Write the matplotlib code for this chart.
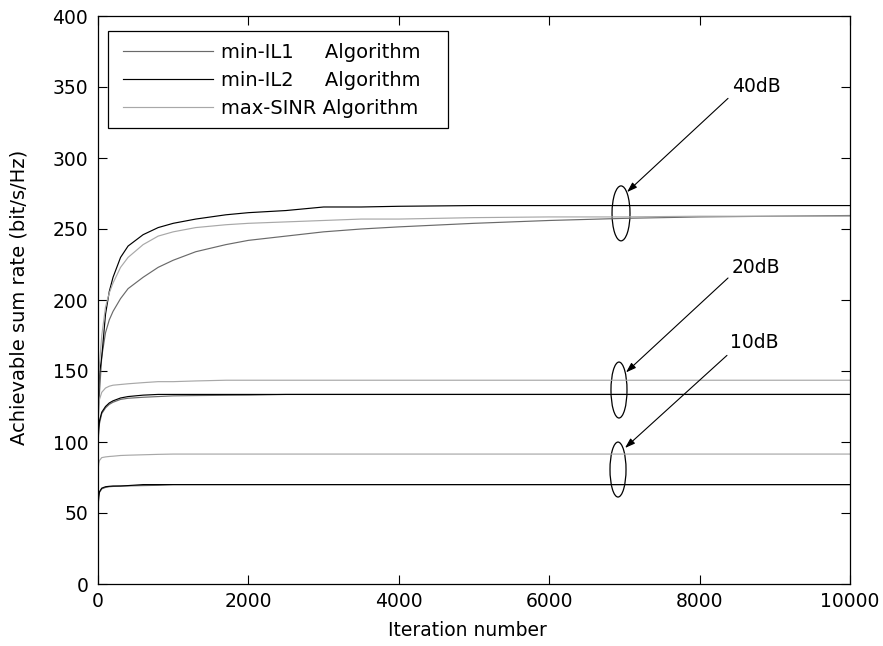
import matplotlib
matplotlib.use("Agg")
import matplotlib.pyplot as plt
from matplotlib.patches import Ellipse, Rectangle

plt.rcParams['font.family'] = ['DejaVu Sans']

# ---------------- data ----------------
iters = [1, 10, 20, 50, 100, 150, 200, 300, 400, 600, 800, 1000, 1300, 1700,
         2000, 2500, 3000, 3500, 4000, 5000, 6000, 7000, 8000, 9000, 10000]

# 40 dB
il1_40 = [110, 125, 135, 160, 177, 186, 192, 201, 208, 216, 223, 228, 234, 239,
          242, 245, 248, 250, 251.5, 254, 256, 257.5, 258.5, 259, 259.5]
il2_40 = [118, 138, 148, 160, 190, 206, 216, 230, 238, 246, 251, 254, 257, 260,
          261.5, 263, 265.5, 265.5, 266, 266.5, 266.5, 266.5, 266.5, 266.5, 266.5]
sinr_40 = [125, 145, 155, 175, 195, 205, 212, 223, 230, 239, 245, 248, 251, 253,
           254, 255, 256, 257, 257, 258, 258.5, 258.5, 259, 259, 259]

# 20 dB
il1_20 = [98, 108, 113, 120, 124, 126.5, 128, 130, 130.8, 131.5, 132, 132.5, 132.7, 132.9,
          133, 133.5, 133.5, 133.5, 133.5, 133.5, 133.5, 133.5, 133.5, 133.5, 133.5]
il2_20 = [100, 110, 115, 121, 125, 127.5, 129, 131, 132, 133, 133.5, 133.5, 133.5, 133.5,
          133.5, 133.5, 133.5, 133.5, 133.5, 133.5, 133.5, 133.5, 133.5, 133.5, 133.5]
sinr_20 = [115, 125, 130, 135, 138, 139.3, 140, 140.5, 141, 141.8, 142.5, 142.5, 143, 143.5,
           143.5, 143.5, 143.5, 143.5, 143.5, 143.5, 143.5, 143.5, 143.5, 143.5, 143.5]

# 10 dB
il1_10 = [54, 61, 64.5, 67, 68, 68.5, 68.7, 69, 69.1, 69.3, 69.5, 70, 70, 70,
          70, 70, 70, 70, 70, 70, 70, 70, 70, 70, 70]
il2_10 = [55, 62, 65, 67.5, 68.5, 68.8, 69, 69, 69.3, 70, 70, 70, 70, 70,
          70, 70, 70, 70, 70, 70, 70, 70, 70, 70, 70]
sinr_10 = [80, 85, 87, 89, 89.5, 89.8, 90, 90.5, 90.7, 91, 91.3, 91.5, 91.5, 91.5,
           91.5, 91.5, 91.5, 91.5, 91.5, 91.5, 91.5, 91.5, 91.5, 91.5, 91.5]

labels = ["min-IL1     Algorithm", "min-IL2     Algorithm", "max-SINR Algorithm"]
snr_labels = ["40dB", "20dB", "10dB"]
xticks = [0, 2000, 4000, 6000, 8000, 10000]
yticks = [0, 50, 100, 150, 200, 250, 300, 350, 400]

# ---------------- figure ----------------
fig = plt.figure(figsize=(8.83, 6.46), dpi=100)
ax = fig.add_axes([98/883, 62/646, 752/883, 568/646])

c_il1 = '#6a6a6a'
c_il2 = '#000000'
c_sinr = '#a8a8a8'
lw = 0.85

l1, = ax.plot(iters, il1_40, color=c_il1, lw=lw)
l2, = ax.plot(iters, il2_40, color=c_il2, lw=lw)
l3, = ax.plot(iters, sinr_40, color=c_sinr, lw=lw)
ax.plot(iters, il1_20, color=c_il1, lw=lw)
ax.plot(iters, il2_20, color=c_il2, lw=lw)
ax.plot(iters, sinr_20, color=c_sinr, lw=lw)
ax.plot(iters, il1_10, color=c_il1, lw=lw)
ax.plot(iters, il2_10, color=c_il2, lw=lw)
ax.plot(iters, sinr_10, color=c_sinr, lw=lw)

ax.set_xlim(0, 10000)
ax.set_ylim(0, 400)
ax.set_xticks(xticks)
ax.set_yticks(yticks)
ax.tick_params(direction='in', top=True, right=True, length=6.5, width=0.8,
               labelsize=13.5)
ax.tick_params(axis='y', pad=7)
ax.tick_params(axis='x', pad=6)
for s in ax.spines.values():
    s.set_linewidth(0.9)

ax.set_xlabel("Iteration number", fontsize=13.5)
ax.set_ylabel("Achievable sum rate (bit/s/Hz)", fontsize=14)
ax.yaxis.set_label_coords(-0.093, 0.505)
ax.xaxis.set_label_coords(0.491, -0.066)

# legend (text + handles) with a MATLAB-like frame drawn separately
leg = ax.legend([l1, l2, l3], labels, loc='upper left',
                bbox_to_anchor=(0.0332, 0.953), fontsize=14, handlelength=4.63,
                handletextpad=0.41, labelspacing=0.46, borderpad=0,
                borderaxespad=0, frameon=False)
ax.add_patch(Rectangle((0.0133, 0.8028), 0.4521, 0.1708, transform=ax.transAxes,
                       fill=True, facecolor='white', edgecolor='black', lw=0.9,
                       zorder=4))
leg.set_zorder(5)

# annotations: ellipses + arrows + labels
ell_centers = [(6955, 261), (6928, 136.6), (6915, 80.6)]
ell_sizes = [(239, 38.7), (213, 39.4), (213, 38.7)]
arrow_starts = [(8378, 342), (8378, 215.5), (8364, 161)]
arrow_ends = [(7035, 276), (7021, 149), (7008, 95.8)]
text_pos = [(8431, 350), (8431, 223), (8400, 170)]

for (cx, cy), (w, h), st, en, tp, lab in zip(ell_centers, ell_sizes, arrow_starts,
                                             arrow_ends, text_pos, snr_labels):
    ax.add_patch(Ellipse((cx, cy), w, h, fill=False, edgecolor='black', lw=0.9))
    ax.annotate('', xy=en, xytext=st,
                arrowprops=dict(arrowstyle='-|>,head_length=0.6,head_width=0.2',
                                color='black', lw=0.8, shrinkA=0, shrinkB=0))
    ax.text(tp[0], tp[1], lab, fontsize=13.5, ha='left', va='center')

fig.savefig("out.png", dpi=100)
